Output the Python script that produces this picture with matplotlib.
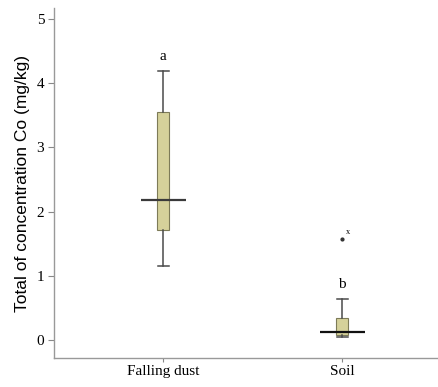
import matplotlib.pyplot as plt
import numpy as np

# data
groups = ['Falling dust', 'Soil']
whislo = [1.15, 0.04]
q1 = [1.72, 0.08]
med = [2.18, 0.13]
q3 = [3.55, 0.34]
whishi = [4.19, 0.64]
outliers = [[], [1.57]]
outlier_ids = ['', 'x']
letters = ['a', 'b']
letter_y = [4.42, 0.86]

pos = [1, 2]
stats = []
for i in range(len(groups)):
    stats.append(dict(whislo=whislo[i], q1=q1[i], med=med[i], q3=q3[i],
                      whishi=whishi[i], fliers=outliers[i], label=groups[i]))

fig = plt.figure(figsize=(4.39, 3.87), dpi=100)
ax = fig.add_axes([0.123, 0.075, 0.877, 0.904])

ax.bxp(stats, positions=pos, widths=0.067, capwidths=0.06, patch_artist=True,
       showfliers=True,
       boxprops=dict(facecolor='#d5d19a', edgecolor='#7d7b58', linewidth=0.8),
       whiskerprops=dict(color='#4a4a4a', linewidth=1.1),
       capprops=dict(color='#4a4a4a', linewidth=1.1),
       medianprops=dict(linewidth=0),
       flierprops=dict(marker='o', markersize=2, markerfacecolor='#333333',
                       markeredgecolor='#333333'))

# long median bars
ax.hlines(med, np.array(pos) - 0.125, np.array(pos) + 0.125,
          colors=['#3a3a3a', '#111111'], linewidth=1.6, zorder=5)

for i in range(len(groups)):
    ax.text(pos[i], letter_y[i], letters[i], ha='center', va='center',
            fontsize=11, family='Liberation Serif')
    for v in outliers[i]:
        ax.text(pos[i] + 0.02, v + 0.05, outlier_ids[i], fontsize=6,
                family='Liberation Serif', ha='left', va='bottom')

ax.set_xlim(0.39, 2.54)
ax.set_ylim(-0.28, 5.17)
ax.set_yticks([0, 1, 2, 3, 4, 5])
ax.set_xticks(pos)
ax.set_xticklabels(groups)
for lab in ax.get_xticklabels() + ax.get_yticklabels():
    lab.set_family('Liberation Serif')
    lab.set_fontsize(11)
ax.tick_params(axis='y', length=4, color='#888888', pad=3)
ax.tick_params(axis='x', length=3, color='#888888', pad=2)
ax.set_ylabel('Total of concentration Co (mg/kg)', family='Liberation Sans',
              fontsize=12.5, labelpad=5)

for s in ['top', 'right']:
    ax.spines[s].set_visible(False)
for s in ['left', 'bottom']:
    ax.spines[s].set_color('#999999')
    ax.spines[s].set_linewidth(1.0)

fig.savefig('out.png', dpi=100)
